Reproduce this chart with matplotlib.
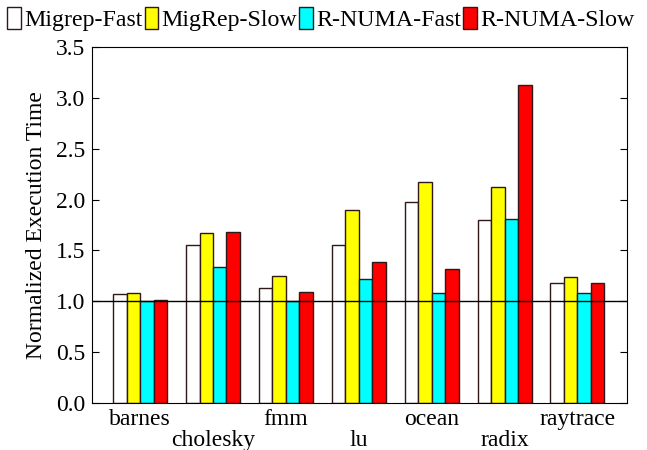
import matplotlib
matplotlib.use("Agg")
import matplotlib.pyplot as plt
import numpy as np

plt.rcParams['font.family'] = ['Liberation Serif', 'DejaVu Serif']

benchmarks = ["barnes", "cholesky", "fmm", "lu", "ocean", "radix", "raytrace"]
series_names = ["Migrep-Fast", "MigRep-Slow", "R-NUMA-Fast", "R-NUMA-Slow"]
colors = ["white", "yellow", "cyan", "red"]

migrep_fast = [1.07, 1.55, 1.13, 1.55, 1.98, 1.80, 1.18]
migrep_slow = [1.08, 1.67, 1.25, 1.90, 2.17, 2.12, 1.24]
rnuma_fast = [1.00, 1.34, 1.00, 1.22, 1.08, 1.81, 1.08]
rnuma_slow = [1.01, 1.68, 1.09, 1.39, 1.32, 3.13, 1.18]
values = [migrep_fast, migrep_slow, rnuma_fast, rnuma_slow]

fig = plt.figure(figsize=(6.47, 4.5), dpi=100)
ax = fig.add_axes([92 / 647, 47 / 450, 535 / 647, 356 / 450])

x = np.arange(len(benchmarks))
width = 0.185
for i, (name, vals, c) in enumerate(zip(series_names, values, colors)):
    ax.bar(x + (i - 1.5) * width, vals, width, color=c, edgecolor="#301818",
           linewidth=1.0, label=name, zorder=2)

ax.axhline(1.0, color="black", linewidth=1.0, zorder=3)

ax.set_xlim(-0.66, 6.68)
ax.set_ylim(0, 3.5)
ax.set_yticks(np.arange(0, 3.51, 0.5))
ax.set_yticklabels(["%.1f" % v for v in np.arange(0, 3.51, 0.5)], fontsize=17)
ax.tick_params(axis="y", direction="in", right=True, length=5, pad=5)
ax.set_xticks(x)
ax.set_xticklabels([b if i % 2 == 0 else "\n" + b for i, b in enumerate(benchmarks)],
                   fontsize=17, linespacing=1.0)
ax.tick_params(axis="x", length=0, pad=4)
ax.set_ylabel("Normalized Execution Time", fontsize=17, labelpad=6)

fig.legend(loc="upper left", bbox_to_anchor=(0.0, 1.0), ncol=4, frameon=False,
           fontsize=17.2, handlelength=0.58, handleheight=1.05, handletextpad=0.12,
           columnspacing=0.1, borderaxespad=0.1, borderpad=0.2)

fig.savefig("out.png", dpi=100)
